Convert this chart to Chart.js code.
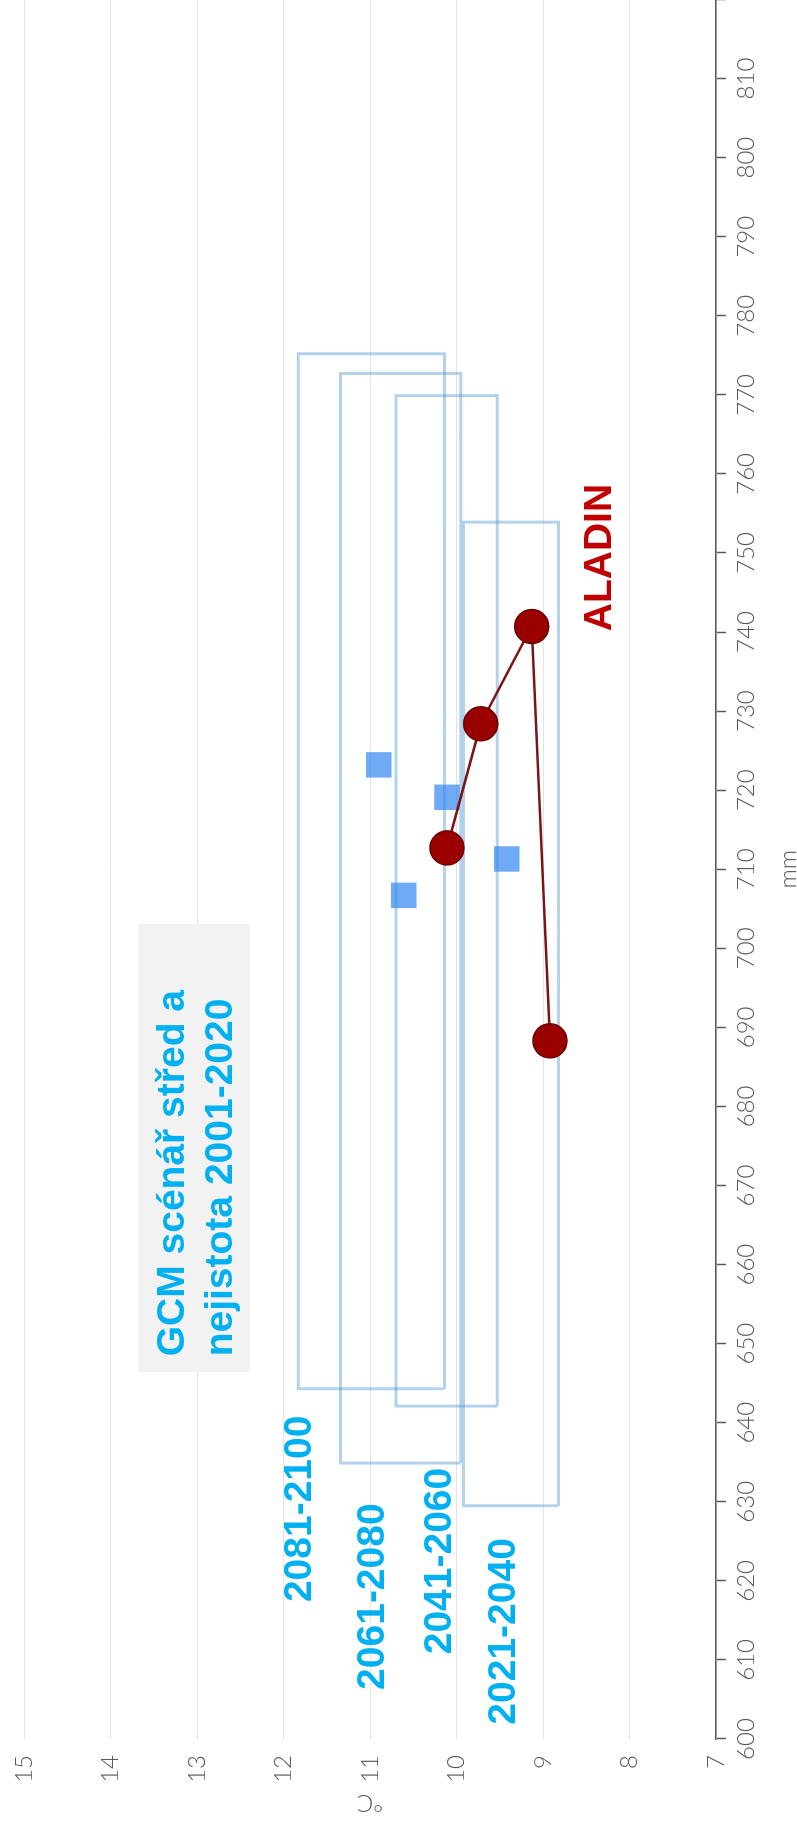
<!DOCTYPE html>
<html>
<head>
<meta charset="utf-8">
<script src="https://cdn.jsdelivr.net/npm/chart.js@4.4.0/dist/chart.umd.min.js"></script>
<style>
html, body { margin: 0; padding: 0; background: #fff; overflow: hidden; }
/* the picture is the chart turned a quarter turn to the left;
   the canvas is a bit longer so the 820 end falls just outside the window */
#wrap { position: absolute; left: 0; top: 0; width: 1846px; height: 797px;
        transform-origin: 0 0; transform: translateY(1827px) rotate(-90deg); }
</style>
</head>
<body>
<div id="wrap"><canvas id="graf" width="1846" height="797"></canvas></div>
<script>
// GCM periods (uncertainty boxes, centres)
const periods = ['2021-2040', '2041-2060', '2061-2080', '2081-2100'];
const boxMmMin = [629.5, 642.1, 634.9, 644.3];
const boxMmMax = [753.9, 769.9, 772.7, 775.2];
const boxTMin = [8.82, 9.53, 9.95, 10.14];
const boxTMax = [9.92, 10.70, 11.34, 11.83];
const gcmMm = [711.3, 719.1, 706.7, 723.2];
const gcmT = [9.42, 10.11, 10.61, 10.90];

// ALADIN model
const aladinMm = [688.3, 740.7, 728.4, 712.7];
const aladinT = [8.92, 9.13, 9.72, 10.11];

// label anchors (mm, °C)
const periodLabelMm = [625.4, 634.3, 629.8, 640.9];
const periodLabelT = [9.48, 10.22, 11.0, 11.84];
const aladinLabel = { text: 'ALADIN', mm: 740.1, t: 8.38 };
const gcmNote = ['GCM scénář střed a', 'nejistota 2001-2020'];
const gcmNoteMm = [646.4, 703.1];
const gcmNoteT = [12.39, 13.68];
const gcmNoteLineT = [13.15, 12.60];
const gcmNoteTextMm = 648.4;

// axes
const mmMin = 600, mmMax = 820, mmStep = 10;
const tMin = 7, tMax = 15, tStep = 1;

var datasets = [];

datasets.push({
    label: 'ALADIN',
    data: aladinMm.map((m, i) => ({ x: m, y: aladinT[i] })),
    showLine: true,
    borderColor: '#7b1414',
    borderWidth: 2.5,
    pointRadius: 17,
    pointBackgroundColor: '#9b0000',
    pointBorderColor: '#6b0000',
    pointBorderWidth: 1.5,
    order: 0
});

datasets.push({
    label: 'GCM střed',
    data: gcmMm.map((m, i) => ({ x: m, y: gcmT[i] })),
    showLine: false,
    pointStyle: 'rect',
    pointRadius: 18,
    pointBackgroundColor: 'rgba(50,135,240,0.7)',
    pointBorderWidth: 0,
    order: 1
});

// each box as a closed outline
periods.forEach(function (p, i) {
    datasets.push({
        label: p,
        data: [
            { x: boxMmMin[i], y: boxTMin[i] },
            { x: boxMmMax[i], y: boxTMin[i] },
            { x: boxMmMax[i], y: boxTMax[i] },
            { x: boxMmMin[i], y: boxTMax[i] },
            { x: boxMmMin[i], y: boxTMin[i] }
        ],
        showLine: true,
        borderColor: 'rgba(91,155,213,0.45)',
        borderWidth: 3,
        borderJoinStyle: 'miter',
        pointRadius: 0,
        fill: false,
        order: 2 + i
    });
});

const boldFont = 'bold 39px "Liberation Sans", Arial, sans-serif';

const popisky = {
    id: 'popisky',
    afterDatasetsDraw(chart) {
        const ctx = chart.ctx;
        const xs = chart.scales.x, ys = chart.scales.y;
        ctx.save();

        // note box
        const bx0 = xs.getPixelForValue(gcmNoteMm[0]), bx1 = xs.getPixelForValue(gcmNoteMm[1]);
        const by0 = ys.getPixelForValue(gcmNoteT[1]), by1 = ys.getPixelForValue(gcmNoteT[0]);
        ctx.fillStyle = '#f2f2f2';
        ctx.fillRect(bx0, by0, bx1 - bx0, by1 - by0);

        ctx.font = boldFont;
        ctx.fillStyle = '#00b0f0';
        ctx.textBaseline = 'alphabetic';
        ctx.textAlign = 'left';
        gcmNote.forEach(function (line, i) {
            ctx.fillText(line, xs.getPixelForValue(gcmNoteTextMm), ys.getPixelForValue(gcmNoteLineT[i]));
        });

        // period labels
        ctx.textAlign = 'right';
        periods.forEach(function (p, i) {
            ctx.fillText(p, xs.getPixelForValue(periodLabelMm[i]), ys.getPixelForValue(periodLabelT[i]) + 14);
        });

        // ALADIN
        ctx.fillStyle = '#c00000';
        ctx.textAlign = 'left';
        ctx.fillText(aladinLabel.text, xs.getPixelForValue(aladinLabel.mm), ys.getPixelForValue(aladinLabel.t) + 14);
        ctx.restore();
    }
};

const tickFont = { family: 'Lato, "Open Sans", sans-serif', size: 24, weight: '300' };

var graf = new Chart(document.getElementById('graf').getContext('2d'), {
    type: 'scatter',
    data: { datasets: datasets },
    plugins: [popisky],
    options: {
        responsive: false,
        animation: false,
        layout: { padding: { top: 24, right: 0, bottom: 0, left: 0 } },
        plugins: { legend: { display: false }, tooltip: { enabled: false } },
        scales: {
            x: {
                type: 'linear',
                min: mmMin,
                max: mmMax,
                ticks: {
                    stepSize: mmStep,
                    autoSkip: false,
                    maxRotation: 0,
                    padding: 6,
                    color: '#595959',
                    font: tickFont,
                    callback: v => (v < mmMax ? v : '')
                },
                grid: { drawOnChartArea: false, drawTicks: true, tickLength: 10, tickColor: '#595959', tickWidth: 1.5 },
                border: { display: true, color: '#595959', width: 1.5 },
                title: { display: true, text: 'mm', color: '#595959', font: tickFont, padding: { top: 0, bottom: -6 } },
                afterFit: function (s) { s.height = 81; s.paddingLeft = 0; s.paddingRight = 0; }
            },
            y: {
                min: tMin,
                max: tMax,
                ticks: { stepSize: tStep, padding: 16, color: '#595959', font: tickFont },
                grid: { color: '#e3e3e3', lineWidth: 1, drawTicks: false },
                border: { display: false },
                title: { display: true, text: '°C', color: '#595959', font: tickFont, padding: { top: 10, bottom: 0 } },
                afterFit: function (s) { s.width = 88; s.paddingTop = 0; s.paddingBottom = 0; }
            }
        }
    }
});
</script>
</body>
</html>
